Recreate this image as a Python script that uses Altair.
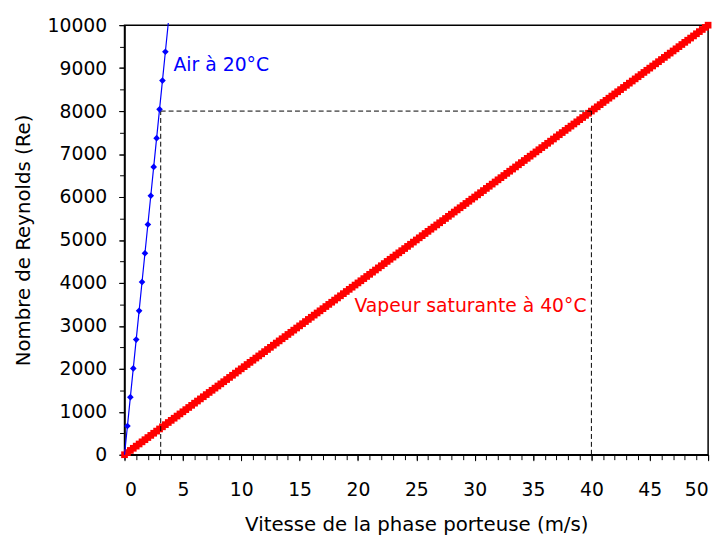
import altair as alt
import pandas as pd

# Air at 20°C (blue)
air_x = [0, 0.25, 0.5, 0.75, 1.0, 1.25, 1.5, 1.75, 2.0, 2.25, 2.5, 2.75, 3.0, 3.25, 3.5, 3.75]
air_re = [0, 670, 1340, 2010, 2680, 3350, 4020, 4690, 5360, 6030, 6700, 7370, 8040, 8710, 9380, 10050]
air_marker = [False] + [True] * 14 + [False]

# Saturated vapour at 40°C (red): Re = 200 * v, markers every 0.25 m/s
vap_x = [i * 0.25 for i in range(0, 201)]
vap_re = [200 * v for v in vap_x]

# reading guides
guide_h = {"x": [3.1], "x2": [40], "y": [8000]}
guide_v = {"x": [3.1, 40], "y": [0, 0], "y2": [8000, 8000]}

label_x = [4.2, 19.7]
label_y = [9080, 3450]
label_text = ["Air à 20°C", "Vapeur saturante à 40°C"]
label_color = ["#0000ff", "#ff0000"]

x_major = list(range(0, 51, 5))
x_minor = list(range(0, 51))
y_major = list(range(0, 10001, 1000))
y_minor = list(range(0, 10001, 500))

FONT = "DejaVu Sans"
air = pd.DataFrame({"x": air_x, "y": air_re, "m": air_marker})
vap = pd.DataFrame({"x": vap_x, "y": vap_re})
labels = pd.DataFrame({"x": label_x, "y": label_y, "text": label_text, "color": label_color})

xs = alt.Scale(domain=[0, 50], nice=False)
ys = alt.Scale(domain=[0, 10000], nice=False)

xaxis = alt.Axis(values=x_major, tickSize=6, labelPadding=20, format="d", orient="bottom",
                 title="Vitesse de la phase porteuse (m/s)", titlePadding=16,
                 grid=False, domainColor="black", tickColor="black")
yaxis = alt.Axis(values=y_major, tickSize=6, labelPadding=12, format="d", orient="left",
                 title="Nombre de Reynolds (Re)", titlePadding=14,
                 grid=False, domainColor="black", tickColor="black")

X0 = alt.X("x:Q", scale=xs, axis=None)
Y0 = alt.Y("y:Q", scale=ys, axis=None)

vap_layer = alt.Chart(vap).mark_point(shape="square", filled=True, size=46, color="#ff0000", opacity=1).encode(
    x=alt.X("x:Q", scale=xs, axis=xaxis), y=alt.Y("y:Q", scale=ys, axis=yaxis))

# minor ticks
minor = alt.Chart(pd.DataFrame({"x": [0], "y": [0]})).mark_point(opacity=0).encode(
    x=alt.X("x:Q", scale=xs, axis=alt.Axis(values=x_minor, tickSize=5, labels=False,
                                           title=None, domain=False, grid=False, orient="bottom",
                                           tickColor="black")),
    y=alt.Y("y:Q", scale=ys, axis=alt.Axis(values=y_minor, tickSize=5, labels=False,
                                           title=None, domain=False, grid=False, orient="left",
                                           tickColor="black")),
)

air_line = alt.Chart(air).mark_line(color="#0000ff", strokeWidth=1.2, clip=False).encode(x=X0, y=Y0)
air_pts = alt.Chart(air[air.m]).mark_point(shape="diamond", filled=True, size=45, color="#0000ff", opacity=1).encode(
    x=X0, y=Y0)

gh = alt.Chart(pd.DataFrame(guide_h)).mark_rule(color="black", strokeDash=[5, 3], strokeWidth=1).encode(
    x=X0, x2="x2:Q", y=Y0)
gv = alt.Chart(pd.DataFrame(guide_v)).mark_rule(color="black", strokeDash=[5, 3], strokeWidth=1).encode(
    x=X0, y=Y0, y2="y2:Q")

txt = alt.Chart(labels).mark_text(align="left", baseline="middle", font=FONT, fontSize=19).encode(
    x=X0, y=Y0, text="text:N", color=alt.Color("color:N", scale=None))

chart = alt.layer(vap_layer, minor, gh, gv, air_line, air_pts, txt).resolve_axis(
    x="independent", y="independent"
).properties(width=591, height=435).configure_view(
    stroke="black", strokeWidth=1.5
).configure_axis(
    labelFont=FONT, titleFont=FONT, labelFontSize=19, titleFontSize=20,
    labelColor="black", titleColor="black", titleFontWeight="normal", domainWidth=1.5,
)

chart.save("out.html", embed_options={"renderer": "svg", "actions": False})
